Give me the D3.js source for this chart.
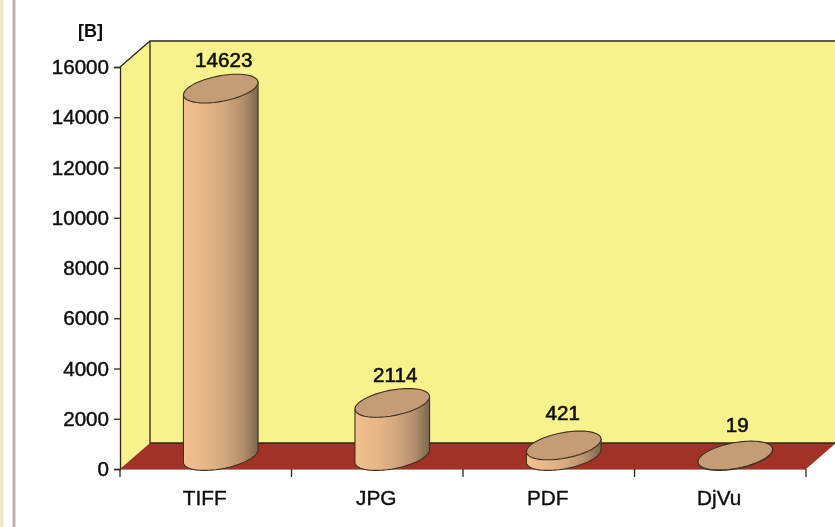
<!DOCTYPE html>
<html>
<head>
<meta charset="utf-8">
<script src="https://cdn.jsdelivr.net/npm/d3@7/dist/d3.min.js"></script>
<style>
html,body{margin:0;padding:0;background:#fff;overflow:hidden}
svg{display:block}
text{font-family:"Liberation Sans",Arial,sans-serif;fill:#111}
</style>
</head>
<body>
<svg id="c" width="835" height="527"></svg>
<script>
const categories = ["TIFF", "JPG", "PDF", "DjVu"];
const values = [14623, 2114, 421, 19];
const yTicks = [0, 2000, 4000, 6000, 8000, 10000, 12000, 14000, 16000];
const unitLabel = "[B]";

const svg = d3.select("#c");
const depthX = 30, depthY = 26;
const x = d3.scaleBand().domain(categories).range([120, 806]);
const y = d3.scaleLinear().domain([0, 16000]).range([469, 67]);
const ink = "#2c2a1c";
const fontStack = '"Liberation Sans",Arial,sans-serif';

const defs = svg.append("defs");
const blur = defs.append("filter").attr("id", "soft")
  .attr("x", "-5%").attr("y", "-5%").attr("width", "110%").attr("height", "110%");
blur.append("feGaussianBlur").attr("stdDeviation", 0.45);
const grad = defs.append("linearGradient").attr("id", "side");
[[0, "#f0c08e"], [0.3, "#e6b688"], [0.55, "#d2a87f"], [0.8, "#b48e6c"], [1, "#7c674e"]]
  .forEach(([o, c]) => grad.append("stop").attr("offset", o).attr("stop-color", c));

// page edge stripes
svg.append("rect").attr("x", 0).attr("y", 0).attr("width", 3.5).attr("height", 527).attr("fill", "#ece8c8");
svg.append("rect").attr("x", 12.5).attr("y", 0).attr("width", 3).attr("height", 527).attr("fill", "#c4b0a8");

const g = svg.append("g").attr("filter", "url(#soft)");
const x0 = x.range()[0], x1 = x.range()[1], yb = y(0), yt = y(16000);
const poly = pts => "M" + pts.map(p => p.join(",")).join("L") + "Z";

// walls and floor
g.append("path").attr("fill", "#f7f28c")
  .attr("d", poly([[x0 + depthX, yt - depthY], [x1 + depthX, yt - depthY], [x1 + depthX, yb - depthY], [x0 + depthX, yb - depthY]]));
g.append("path").attr("fill", "#f7f28c")
  .attr("d", poly([[x0, yt], [x0 + depthX, yt - depthY], [x0 + depthX, yb - depthY], [x0, yb]]));
g.append("path").attr("fill", "#a23226")
  .attr("d", poly([[x0, yb], [x0 + depthX, yb - depthY], [x1 + depthX, yb - depthY], [x1, yb]]));
g.append("path").attr("fill", "none").attr("stroke", ink).attr("stroke-width", 1.3)
  .attr("d", `M${x0},${yt}L${x0 + depthX},${yt - depthY}L${x1 + depthX},${yt - depthY}M${x0 + depthX},${yt - depthY}V${yb - depthY}L${x1 + depthX},${yb - depthY}`);

// axes
const yAxis = g.append("g").attr("transform", `translate(${x0},0)`)
  .call(d3.axisLeft(y).tickValues(yTicks).tickSize(6).tickPadding(5).tickFormat(d3.format("d")));
yAxis.select(".domain").attr("stroke", ink).attr("stroke-width", 1.3);
yAxis.selectAll(".tick line").attr("stroke", ink).attr("stroke-width", 1.3);
yAxis.selectAll("text").attr("font-size", 20.6).attr("stroke", "#111").attr("stroke-width", 0.45)
  .style("font-family", fontStack).attr("fill", "#111");

const xAxis = g.append("g").attr("transform", `translate(0,${yb})`)
  .call(d3.axisBottom(x).tickSize(0).tickPadding(21));
xAxis.select(".domain").attr("stroke", "#8a7a70").attr("stroke-width", 0.8);
xAxis.selectAll("text").attr("font-size", 20.8).attr("dx", -1).attr("stroke", "#111").attr("stroke-width", 0.4)
  .style("font-family", fontStack).attr("fill", "#111");
g.append("g").selectAll("line").data(d3.range(categories.length + 1)).join("line")
  .attr("x1", i => x0 + i * x.step()).attr("x2", i => x0 + i * x.step())
  .attr("y1", yb).attr("y2", yb + 8).attr("stroke", ink).attr("stroke-width", 1.3);

g.append("text").attr("x", 78).attr("y", 37).attr("font-size", 18).attr("font-weight", "bold").text(unitLabel);

// cylinders: each end is an ellipse inscribed in the slanted floor cell
const ux = 33.6, vx = 16.2, vy = -14.4;
const ellipsePoint = (cx, cy, t) => [cx + ux * Math.cos(t) + vx * Math.sin(t), cy + vy * Math.sin(t)];
const tRight = Math.atan2(vx, ux), tLeft = tRight + Math.PI;
const arcPts = (cx, cy, from, to) => d3.range(0, 49).map(i => ellipsePoint(cx, cy, from + (to - from) * i / 48));
const line = d3.line();
const nudge = { TIFF: [3, -22], JPG: [3, -21], PDF: [-1, -25], DjVu: [2, -24] };

const bars = g.append("g").selectAll("g").data(categories.map((c, i) => ({ c, v: values[i] }))).join("g");
bars.each(function (d) {
  const sel = d3.select(this);
  const cx = x(d.c) + x.bandwidth() / 2 + depthX / 2;
  const cyBot = y(0) - depthY / 2, cyTop = y(d.v) - depthY / 2;
  const leftT = ellipsePoint(cx, cyTop, tLeft), rightT = ellipsePoint(cx, cyTop, tRight);
  const front = arcPts(cx, cyBot, tLeft, tRight + 2 * Math.PI);
  sel.append("path").attr("fill", "url(#side)").attr("stroke", "#3c3022").attr("stroke-width", 1.1)
    .attr("d", line([leftT, ...front, rightT]) + "Z");
  sel.append("path").attr("fill", "#c49c76").attr("stroke", "#3c3022").attr("stroke-width", 1.1)
    .attr("d", line(arcPts(cx, cyTop, 0, 2 * Math.PI)) + "Z");
  const n = nudge[d.c];
  sel.append("text").attr("x", cx + n[0]).attr("y", cyTop + n[1]).attr("text-anchor", "middle")
    .attr("font-size", 20.6).attr("stroke", "#111").attr("stroke-width", 0.6).text(d.v);
});
</script>
</body>
</html>
